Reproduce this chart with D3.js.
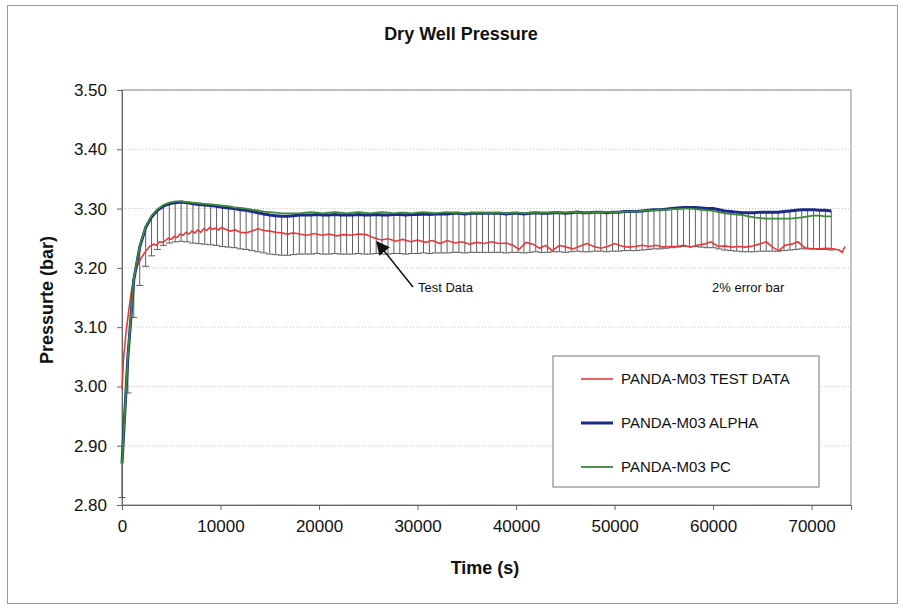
<!DOCTYPE html>
<html>
<head>
<meta charset="utf-8">
<script src="https://cdn.jsdelivr.net/npm/d3@7"></script>
<style>
  body { margin: 0; background: #fff; }
  svg text { font-family: "Liberation Sans", Arial, sans-serif; fill: #111; }
  .axis path, .axis line { stroke: #666; }
  .grid line { stroke: #c4c4c4; stroke-dasharray: 1,2; }
</style>
</head>
<body>
<div id="chart"></div>
<script>
// model output times (s), one point every 600 s
const modelTime = [
  0, 600, 1200, 1800, 2400, 3000, 3600, 4200, 4800, 5400,
  6000, 6600, 7200, 7800, 8400, 9000, 9600, 10200, 10800, 11400,
  12000, 12600, 13200, 13800, 14400, 15000, 15600, 16200, 16800, 17400,
  18000, 18600, 19200, 19800, 20400, 21000, 21600, 22200, 22800, 23400,
  24000, 24600, 25200, 25800, 26400, 27000, 27600, 28200, 28800, 29400,
  30000, 30600, 31200, 31800, 32400, 33000, 33600, 34200, 34800, 35400,
  36000, 36600, 37200, 37800, 38400, 39000, 39600, 40200, 40800, 41400,
  42000, 42600, 43200, 43800, 44400, 45000, 45600, 46200, 46800, 47400,
  48000, 48600, 49200, 49800, 50400, 51000, 51600, 52200, 52800, 53400,
  54000, 54600, 55200, 55800, 56400, 57000, 57600, 58200, 58800, 59400,
  60000, 60600, 61200, 61800, 62400, 63000, 63600, 64200, 64800, 65400,
  66000, 66600, 67200, 67800, 68400, 69000, 69600, 70200, 70800, 71400,
  72000
];

// PANDA-M03 ALPHA (bar)
const alphaP = [
  2.870, 3.050, 3.180, 3.235, 3.268, 3.286, 3.297, 3.304, 3.308, 3.310,
  3.311, 3.310, 3.308, 3.307, 3.306, 3.305, 3.304, 3.302, 3.301, 3.300,
  3.298, 3.297, 3.295, 3.293, 3.291, 3.289, 3.288, 3.287, 3.287, 3.288,
  3.289, 3.289, 3.289, 3.290, 3.289, 3.289, 3.290, 3.289, 3.289, 3.289,
  3.290, 3.289, 3.289, 3.290, 3.289, 3.289, 3.290, 3.290, 3.289, 3.290,
  3.290, 3.291, 3.290, 3.291, 3.291, 3.291, 3.292, 3.292, 3.291, 3.292,
  3.292, 3.292, 3.292, 3.292, 3.292, 3.291, 3.292, 3.292, 3.291, 3.292,
  3.293, 3.292, 3.292, 3.293, 3.293, 3.292, 3.293, 3.294, 3.293, 3.293,
  3.294, 3.294, 3.293, 3.294, 3.294, 3.295, 3.295, 3.295, 3.296, 3.297,
  3.298, 3.298, 3.299, 3.300, 3.301, 3.302, 3.302, 3.302, 3.301, 3.300,
  3.300, 3.298, 3.296, 3.295, 3.294, 3.293, 3.293, 3.293, 3.294, 3.294,
  3.294, 3.294, 3.295, 3.296, 3.297, 3.298, 3.298, 3.298, 3.297, 3.297,
  3.296
];

// PANDA-M03 PC (bar)
const pcP = [
  2.870, 3.052, 3.182, 3.237, 3.270, 3.288, 3.299, 3.306, 3.310, 3.312,
  3.312, 3.311, 3.310, 3.309, 3.308, 3.307, 3.306, 3.305, 3.304, 3.302,
  3.301, 3.300, 3.298, 3.297, 3.295, 3.294, 3.293, 3.292, 3.292, 3.292,
  3.292, 3.293, 3.294, 3.293, 3.292, 3.293, 3.294, 3.293, 3.292, 3.293,
  3.294, 3.293, 3.292, 3.293, 3.294, 3.293, 3.292, 3.293, 3.293, 3.292,
  3.293, 3.294, 3.293, 3.292, 3.293, 3.294, 3.293, 3.293, 3.292, 3.293,
  3.293, 3.293, 3.292, 3.293, 3.293, 3.292, 3.293, 3.293, 3.292, 3.293,
  3.293, 3.293, 3.293, 3.294, 3.293, 3.293, 3.294, 3.294, 3.293, 3.293,
  3.294, 3.294, 3.294, 3.294, 3.294, 3.295, 3.295, 3.295, 3.296, 3.297,
  3.297, 3.298, 3.298, 3.299, 3.299, 3.300, 3.300, 3.299, 3.298, 3.297,
  3.296, 3.294, 3.292, 3.291, 3.290, 3.289, 3.287, 3.285, 3.284, 3.283,
  3.283, 3.283, 3.283, 3.283, 3.284, 3.285, 3.287, 3.288, 3.288, 3.287,
  3.287
];

// PANDA-M03 TEST DATA
const testTime = [
  0, 150, 400, 700, 1000, 1300, 1600, 2000, 2400, 2800,
  3200, 3500, 3800, 4100, 4400, 4700, 5000, 5300, 5600, 5900,
  6200, 6500, 6800, 7100, 7400, 7700, 8000, 8300, 8600, 8900,
  9200, 9500, 9800, 10100, 10500, 11000, 11500, 12000, 12600, 13200,
  13800, 14400, 15000, 15600, 16200, 16800, 17400, 18000, 18800, 19500,
  20300, 21000, 21800, 22500, 23300, 24000, 24800, 25500, 26300, 27000,
  27800, 28500, 29300, 30000, 30800, 31500, 32300, 33000, 33800, 34500,
  35300, 36000, 36800, 37500, 38300, 39000, 39700, 40300, 41000, 41700,
  42400, 43000, 43700, 44400, 45100, 45800, 46500, 47200, 47900, 48600,
  49300, 50000, 50700, 51400, 52100, 52800, 53500, 54200, 54900, 55600,
  56300, 57000, 57700, 58400, 59100, 59800, 60500, 61200, 61900, 62600,
  63300, 64000, 64700, 65400, 66100, 66700, 67300, 68000, 68600, 69300,
  70000, 70800, 71500, 72200, 72800, 73100, 73400
];
const testP = [
  2.995, 3.045, 3.090, 3.130, 3.165, 3.190, 3.205, 3.218, 3.228, 3.236,
  3.240, 3.238, 3.244, 3.243, 3.246, 3.250, 3.248, 3.253, 3.251, 3.257,
  3.255, 3.260, 3.257, 3.262, 3.259, 3.264, 3.260, 3.266, 3.263, 3.268,
  3.265, 3.267, 3.264, 3.268, 3.265, 3.262, 3.264, 3.260, 3.259, 3.262,
  3.266, 3.263, 3.262, 3.260, 3.259, 3.257, 3.259, 3.257, 3.255, 3.258,
  3.255, 3.257, 3.254, 3.256, 3.255, 3.257, 3.256, 3.251, 3.247, 3.249,
  3.245, 3.248, 3.244, 3.247, 3.243, 3.246, 3.241, 3.246, 3.242, 3.244,
  3.240, 3.243, 3.241, 3.244, 3.241, 3.242, 3.238, 3.231, 3.243, 3.240,
  3.233, 3.238, 3.229, 3.238, 3.235, 3.232, 3.237, 3.241, 3.236, 3.233,
  3.236, 3.241, 3.237, 3.235, 3.236, 3.238, 3.236, 3.238, 3.235, 3.236,
  3.236, 3.238, 3.235, 3.238, 3.240, 3.244, 3.236, 3.237, 3.235, 3.236,
  3.235, 3.237, 3.240, 3.244, 3.234, 3.229, 3.238, 3.240, 3.244, 3.234,
  3.232, 3.232, 3.233, 3.232, 3.230, 3.226, 3.236
];

const xTicks = [0, 10000, 20000, 30000, 40000, 50000, 60000, 70000];
const yTicks = [2.80, 2.90, 3.00, 3.10, 3.20, 3.30, 3.40, 3.50];
const errorPct = 0.02;

const width = 903, height = 609;
const margin = {top: 90, right: 52, bottom: 104, left: 122};

const svg = d3.select("#chart").append("svg")
    .attr("width", width)
    .attr("height", height);

// outer chart border
svg.append("rect")
    .attr("x", 7.5).attr("y", 5.5)
    .attr("width", 890).attr("height", 598)
    .attr("fill", "none")
    .attr("stroke", "#999");

const x = d3.scaleLinear().domain([0, 74000]).range([margin.left, width - margin.right]);
const y = d3.scaleLinear().domain([2.8, 3.5]).range([height - margin.bottom, margin.top]);

// gridlines
svg.append("g")
    .attr("class", "grid")
    .selectAll("line")
    .data(yTicks.slice(1))
    .enter().append("line")
    .attr("x1", margin.left).attr("x2", width - margin.right)
    .attr("y1", d => y(d)).attr("y2", d => y(d));

// plot area frame
svg.append("rect")
    .attr("x", margin.left).attr("y", margin.top)
    .attr("width", width - margin.right - margin.left)
    .attr("height", height - margin.bottom - margin.top)
    .attr("fill", "none")
    .attr("stroke", "#888");

// axes
const xAxis = d3.axisBottom(x).tickValues(xTicks).tickSize(5).tickPadding(10).tickFormat(d3.format("d"));
svg.append("g")
    .attr("class", "axis")
    .attr("transform", `translate(0,${height - margin.bottom})`)
    .call(xAxis)
    .call(g => g.selectAll("text").style("font-size", "17px").attr("fill", "#111"));

const yAxis = d3.axisLeft(y).tickValues(yTicks).tickSize(5).tickPadding(10).tickFormat(d3.format(".2f"));
svg.append("g")
    .attr("class", "axis")
    .attr("transform", `translate(${margin.left},0)`)
    .call(yAxis)
    .call(g => g.selectAll("text").style("font-size", "17px").attr("fill", "#111"));

// 2% error bars (minus only) on ALPHA points
const model = modelTime.map((t, i) => ({t: t, a: alphaP[i], p: pcP[i]}));
const eb = svg.append("g").attr("stroke", "#5f5f5f").attr("stroke-width", 1);
eb.selectAll(".bar")
    .data(model)
    .enter().append("line")
    .attr("x1", d => x(d.t)).attr("x2", d => x(d.t))
    .attr("y1", d => y(d.a)).attr("y2", d => y(d.a * (1 - errorPct)));
eb.selectAll(".cap")
    .data(model)
    .enter().append("line")
    .attr("x1", d => x(d.t) - 3.5).attr("x2", d => x(d.t) + 3.5)
    .attr("y1", d => y(d.a * (1 - errorPct))).attr("y2", d => y(d.a * (1 - errorPct)));

// lines
const test = testTime.map((t, i) => ({t: t, v: testP[i]}));
const line = d3.line().x(d => x(d.t)).y(d => y(d.v));

svg.append("path")
    .datum(test)
    .attr("fill", "none")
    .attr("stroke", "#e8383d")
    .attr("stroke-width", 1.6)
    .attr("d", line);

svg.append("path")
    .datum(model.map(d => ({t: d.t, v: d.a})))
    .attr("fill", "none")
    .attr("stroke", "#1c2a8a")
    .attr("stroke-width", 3)
    .attr("d", line);

svg.append("path")
    .datum(model.map(d => ({t: d.t, v: d.p})))
    .attr("fill", "none")
    .attr("stroke", "#3d8a3a")
    .attr("stroke-width", 1.8)
    .attr("d", line);

// title and axis labels
svg.append("text")
    .attr("x", 461).attr("y", 40)
    .attr("text-anchor", "middle")
    .style("font-size", "18px").style("font-weight", "bold")
    .text("Dry Well Pressure");

svg.append("text")
    .attr("transform", "translate(53,300) rotate(-90)")
    .attr("text-anchor", "middle")
    .style("font-size", "18px").style("font-weight", "bold")
    .text("Pressurte (bar)");

svg.append("text")
    .attr("x", 485).attr("y", 574)
    .attr("text-anchor", "middle")
    .style("font-size", "18px").style("font-weight", "bold")
    .text("Time (s)");

// annotations
svg.append("defs").append("marker")
    .attr("id", "arrow")
    .attr("viewBox", "0 0 10 10")
    .attr("refX", 9).attr("refY", 5)
    .attr("markerWidth", 9).attr("markerHeight", 9)
    .attr("orient", "auto")
    .append("path")
    .attr("d", "M0,0 L10,5 L0,10 z")
    .attr("fill", "#111");

svg.append("line")
    .attr("x1", 413).attr("y1", 287)
    .attr("x2", 377).attr("y2", 242)
    .attr("stroke", "#111").attr("stroke-width", 1.5)
    .attr("marker-end", "url(#arrow)");

svg.append("text")
    .attr("x", 418).attr("y", 292)
    .style("font-size", "13px")
    .text("Test Data");

svg.append("text")
    .attr("x", 712).attr("y", 292)
    .style("font-size", "13px")
    .text("2% error bar");

// legend
const legendItems = [
  {name: "PANDA-M03 TEST DATA", color: "#e8383d", w: 1.6},
  {name: "PANDA-M03 ALPHA", color: "#1c2a8a", w: 3},
  {name: "PANDA-M03 PC", color: "#3d8a3a", w: 1.8}
];
const legend = svg.append("g");
legend.append("rect")
    .attr("x", 553).attr("y", 356)
    .attr("width", 266).attr("height", 131)
    .attr("fill", "#fff")
    .attr("stroke", "#777");
const li = legend.selectAll(".item")
    .data(legendItems)
    .enter().append("g")
    .attr("transform", (d, i) => `translate(0,${379 + i * 44})`);
li.append("line")
    .attr("x1", 581).attr("x2", 613)
    .attr("stroke", d => d.color)
    .attr("stroke-width", d => d.w);
li.append("text")
    .attr("x", 621).attr("y", 5)
    .style("font-size", "15px")
    .text(d => d.name);
</script>
</body>
</html>
